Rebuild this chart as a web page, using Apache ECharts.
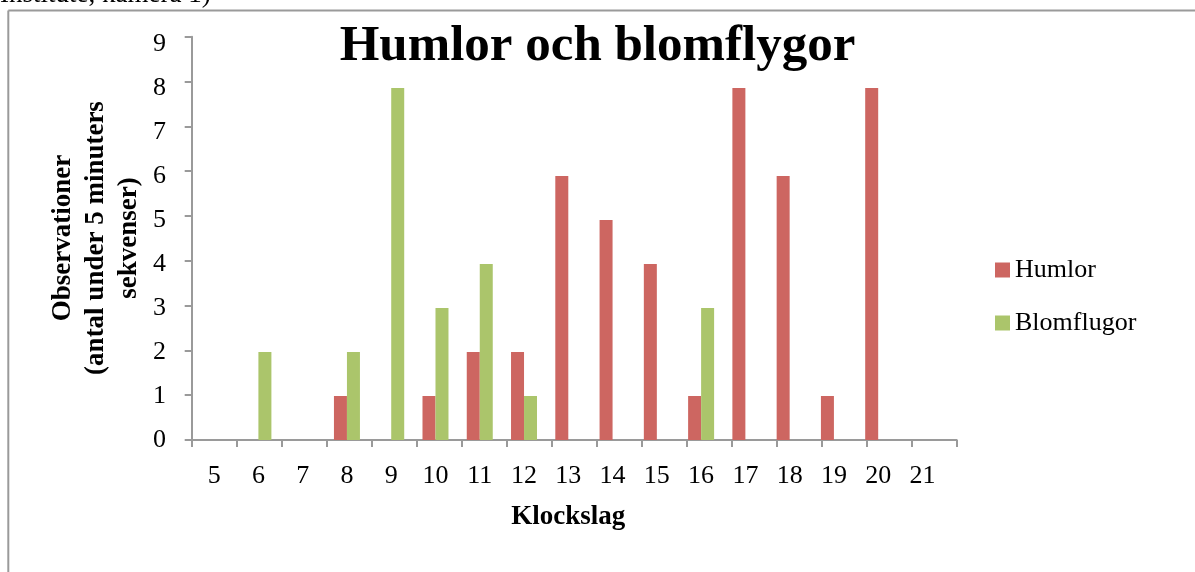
<!DOCTYPE html>
<html>
<head>
<meta charset="utf-8">
<script src="https://cdn.jsdelivr.net/npm/echarts@6/dist/echarts.min.js"></script>
<style>
  html, body { margin: 0; padding: 0; background: #fff; }
  #main { width: 1195px; height: 572px; }
</style>
</head>
<body>
<div id="main"></div>
<script>
// klockslag (x-axel)
const hours = ['5', '6', '7', '8', '9', '10', '11', '12', '13', '14', '15', '16', '17', '18', '19', '20', '21'];
// observationer per klockslag
const humlor = [0, 0, 0, 1, 0, 1, 2, 2, 6, 5, 4, 1, 8, 6, 1, 8, 0];
const blomflugor = [0, 2, 0, 2, 8, 3, 4, 1, 0, 0, 0, 3, 0, 0, 0, 0, 0];

const font = '"Liberation Serif", "DejaVu Serif", serif';
const axisGray = '#9a9a9a';

const chart = echarts.init(document.getElementById('main'));

// grid 0: bara axellinjer och streck, grid 1: staplar och etiketter
// (i originalet ligger streck och staplar inte helt i linje)
const option = {
  backgroundColor: '#fff',
  animation: false,
  textStyle: { fontFamily: font, color: '#000' },
  title: {
    text: 'Humlor och blomflygor',
    left: 'center',
    top: 16,
    textStyle: { fontFamily: font, fontSize: 51, fontWeight: 'bold', color: '#000' }
  },
  legend: {
    orient: 'vertical',
    left: 990,
    top: 252,
    itemWidth: 15,
    itemHeight: 15,
    itemGap: 27,
    icon: 'rect',
    textStyle: { fontFamily: font, fontSize: 26, color: '#000' },
    data: ['Humlor', 'Blomflugor']
  },
  grid: [
    { left: 191.7, right: 238.3, top: 36.7, bottom: 132 },
    { left: 192, right: 250.4, top: 44, bottom: 132 }
  ],
  xAxis: [
    {
      gridIndex: 0,
      type: 'category',
      data: hours,
      axisLine: { lineStyle: { color: axisGray, width: 2 } },
      axisTick: { show: true, alignWithLabel: false, length: 7, lineStyle: { color: axisGray, width: 2 } },
      axisLabel: { show: false }
    },
    {
      gridIndex: 1,
      type: 'category',
      data: hours,
      name: 'Klockslag',
      nameLocation: 'middle',
      nameGap: 64,
      nameTextStyle: { fontFamily: font, fontSize: 27, fontWeight: 'bold', color: '#000' },
      axisLine: { show: false },
      axisTick: { show: false },
      axisLabel: { fontFamily: font, fontSize: 26, color: '#000', margin: 23, interval: 0 }
    }
  ],
  yAxis: [
    {
      gridIndex: 0,
      type: 'value',
      min: 0,
      max: 9,
      interval: 1,
      axisLine: { show: true, lineStyle: { color: axisGray, width: 2 } },
      axisTick: { show: true, length: 7, lineStyle: { color: axisGray, width: 2 } },
      axisLabel: { show: false },
      splitLine: { show: false }
    },
    {
      gridIndex: 1,
      type: 'value',
      min: 0,
      max: 9,
      interval: 1,
      axisLine: { show: false },
      axisTick: { show: false },
      axisLabel: { fontFamily: font, fontSize: 26, color: '#000', margin: 26 },
      splitLine: { show: false }
    }
  ],
  series: [
    {
      name: 'Humlor',
      type: 'bar',
      xAxisIndex: 1,
      yAxisIndex: 1,
      data: humlor,
      barWidth: 13,
      barGap: '0%',
      itemStyle: { color: '#cd6661' }
    },
    {
      name: 'Blomflugor',
      type: 'bar',
      xAxisIndex: 1,
      yAxisIndex: 1,
      data: blomflugor,
      barWidth: 13,
      itemStyle: { color: '#abc56b' }
    }
  ],
  graphic: [
    // ram runt diagrammet
    { type: 'line', shape: { x1: 8.3, y1: 10.5, x2: 1195, y2: 10.5 }, style: { stroke: axisGray, lineWidth: 2 } },
    { type: 'line', shape: { x1: 8.3, y1: 10.5, x2: 8.3, y2: 572 }, style: { stroke: axisGray, lineWidth: 2 } },
    // avklippt text ovanfor
    {
      type: 'text', left: 0, top: -19,
      style: { text: 'Institute, kamera 1)', fontFamily: font, fontSize: 27, fill: '#000' }
    },
    // y-axelns namn
    {
      type: 'text',
      x: 96, y: 238,
      rotation: Math.PI / 2,
      style: {
        text: 'Observationer\n(antal under 5 minuters\nsekvenser)',
        fontFamily: font, fontSize: 27, fontWeight: 'bold', fill: '#000',
        align: 'center', verticalAlign: 'middle', lineHeight: 33
      }
    }
  ]
};

chart.setOption(option);
</script>
</body>
</html>
